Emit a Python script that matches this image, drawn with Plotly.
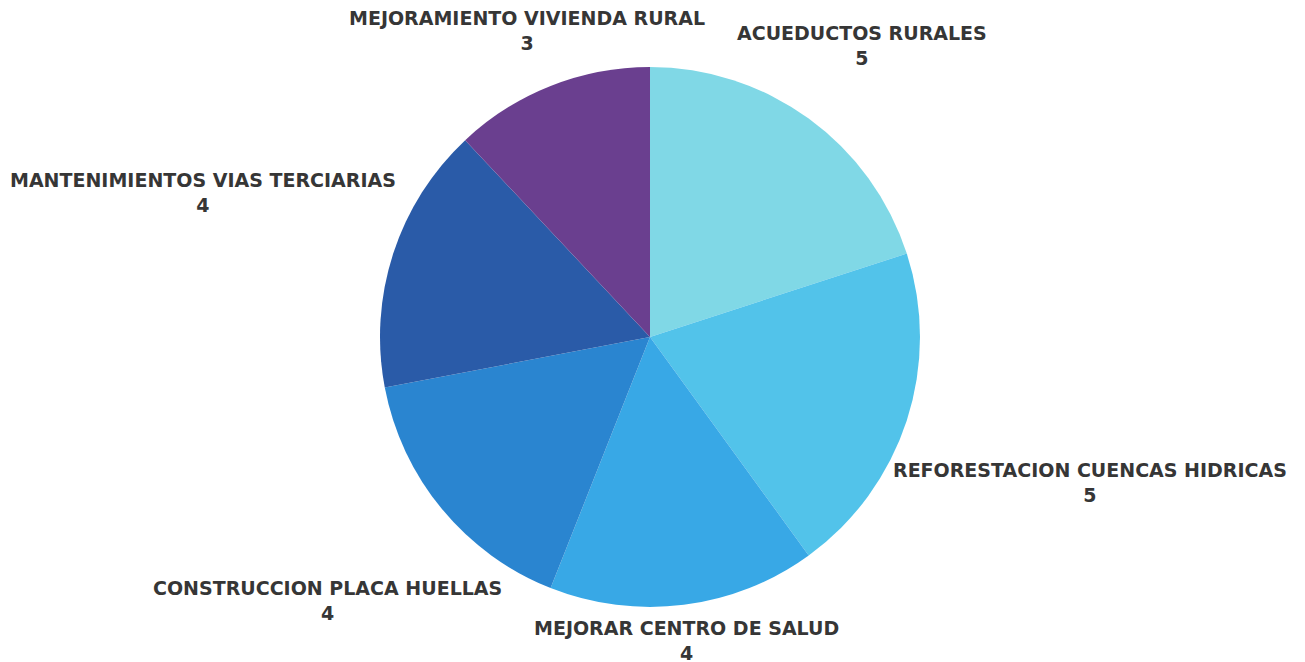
import plotly.graph_objects as go

categories = [
    "ACUEDUCTOS RURALES",
    "REFORESTACION CUENCAS HIDRICAS",
    "MEJORAR CENTRO DE SALUD",
    "CONSTRUCCION PLACA HUELLAS",
    "MANTENIMIENTOS VIAS TERCIARIAS",
    "MEJORAMIENTO VIVIENDA RURAL",
]
values = [5, 5, 4, 4, 4, 3]

colors = ["#80d8e6", "#52c3ea", "#38a8e6", "#2a85d0", "#2a5ba8", "#6a3f8f"]

W, H = 1305, 662
OFF = 8  # page body margin


def px(x):
    return (x - OFF) / W


def py(y):
    return 1 - (y - OFF) / H


# label centre positions in pixels (layout only)
label_px = [
    (862, 45),
    (1090, 482),
    (686, 640),
    (327, 600),
    (203, 193),
    (527, 31),
]

fig = go.Figure()
fig.add_trace(go.Pie(
    labels=categories,
    values=values,
    sort=False,
    direction="clockwise",
    rotation=0,
    marker=dict(colors=colors, line=dict(width=0)),
    textinfo="none",
    hoverinfo="label+value",
    showlegend=False,
    domain=dict(x=[px(380), px(920)], y=[py(607), py(67)]),
))

for cat, val, (x, y) in zip(categories, values, label_px):
    fig.add_annotation(
        x=px(x), y=py(y), xref="paper", yref="paper",
        text=f"<b>{cat}</b><br><b>{val}</b>",
        showarrow=False,
        xanchor="center", yanchor="middle",
        font=dict(family="DejaVu Sans", size=19, color="#363636"),
        align="center",
    )

fig.update_layout(
    width=W, height=H,
    margin=dict(l=0, r=0, t=0, b=0),
    paper_bgcolor="white",
    plot_bgcolor="white",
)

fig.write_html("out.html")
